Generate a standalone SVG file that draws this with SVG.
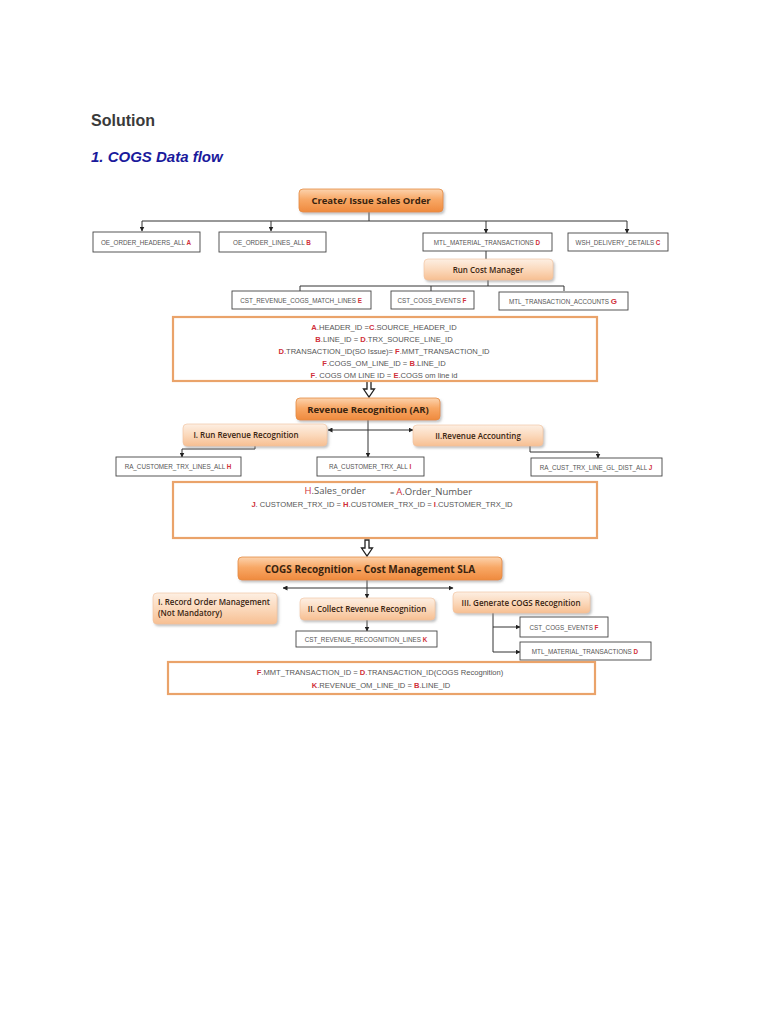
<svg xmlns="http://www.w3.org/2000/svg" width="768" height="1024" viewBox="0 0 768 1024">
<defs>
  <linearGradient id="gMain" x1="0" y1="0" x2="0" y2="1">
    <stop offset="0" stop-color="#fcd3ae"/>
    <stop offset="0.45" stop-color="#f8a866"/>
    <stop offset="1" stop-color="#ef8a3e"/>
  </linearGradient>
  <linearGradient id="gSub" x1="0" y1="0" x2="0" y2="1">
    <stop offset="0" stop-color="#fdefe3"/>
    <stop offset="0.5" stop-color="#fbd9bc"/>
    <stop offset="1" stop-color="#f7bf92"/>
  </linearGradient>
  <filter id="sh" x="-10%" y="-20%" width="125%" height="160%">
    <feDropShadow dx="1.5" dy="2" stdDeviation="1.2" flood-color="#888" flood-opacity="0.5"/>
  </filter>
  <marker id="ah" viewBox="0 0 10 10" refX="9" refY="5" markerWidth="5" markerHeight="5" orient="auto-start-reverse">
    <path d="M0,0 L10,5 L0,10 z" fill="#222"/>
  </marker>
</defs>
<style>
  .title{font-family:"Liberation Sans",Arial,sans-serif;font-weight:bold;font-size:16px;fill:#3a3a3a}
  .sub{font-family:"Liberation Sans",Arial,sans-serif;font-weight:bold;font-style:italic;font-size:15px;fill:#1a1a9c}
  .main{fill:url(#gMain);stroke:#e58a40;stroke-width:0.8;filter:url(#sh)}
  .subbox{fill:url(#gSub);stroke:#f0c09a;stroke-width:0.6;filter:url(#sh)}
  .mt{font-family:"Open Sans","Liberation Sans",sans-serif;font-weight:bold;font-size:9.5px;fill:#3a2410;text-anchor:middle}
  .st{font-family:"Open Sans","Liberation Sans",sans-serif;font-weight:600;font-size:8px;fill:#3a2410;text-anchor:middle}
  .stl{font-family:"Open Sans","Liberation Sans",sans-serif;font-weight:600;font-size:8px;fill:#3a2410;text-anchor:start}
  .tbl{fill:#fff;stroke:#444;stroke-width:0.9}
  .tt{font-family:"Liberation Sans",Arial,sans-serif;font-size:6.3px;fill:#555;text-anchor:middle}
  .r{fill:#d0303a;font-weight:bold}
  .eqbox{fill:#fff;stroke:#eaa36a;stroke-width:2.2}
  .eq{font-family:"Liberation Sans",Arial,sans-serif;font-size:7.6px;fill:#555;text-anchor:middle}
  .conn line,.conn polyline{stroke:#333;stroke-width:1;fill:none}
  .harrow{fill:#fff;stroke:#222;stroke-width:1.3}
</style>

<text class="title" x="91" y="126">Solution</text>
<text class="sub" x="91" y="162">1. COGS Data flow</text>

<!-- connectors -->
<g class="conn" id="connectors">
  <line x1="369" y1="212" x2="369" y2="221"/>
  <line x1="142" y1="221" x2="627" y2="221"/>
  <line x1="142" y1="221" x2="142" y2="231" marker-end="url(#ah)"/>
  <line x1="271" y1="221" x2="271" y2="231" marker-end="url(#ah)"/>
  <line x1="486" y1="221" x2="486" y2="233" marker-end="url(#ah)"/>
  <line x1="627" y1="221" x2="627" y2="233" marker-end="url(#ah)"/>
  <line x1="486" y1="251" x2="486" y2="259"/>
  <line x1="488" y1="280" x2="488" y2="286"/>
  <line x1="300" y1="286" x2="564" y2="286"/>
  <line x1="300" y1="286" x2="300" y2="291"/>
  <line x1="431" y1="286" x2="431" y2="291"/>
  <line x1="564" y1="286" x2="564" y2="291"/>

  <line x1="368" y1="420" x2="368" y2="457" marker-end="url(#ah)"/>
  <line x1="368" y1="430" x2="328" y2="430" marker-end="url(#ah)"/>
  <line x1="368" y1="430" x2="413" y2="430" marker-end="url(#ah)"/>
  <polyline points="255,446 255,449 182,449 182,457" marker-end="url(#ah)"/>
  <polyline points="530,446 530,452 598,452 598,458" marker-end="url(#ah)"/>

  <line x1="367" y1="580" x2="367" y2="598" marker-end="url(#ah)"/>
  <line x1="367" y1="588" x2="283" y2="588" marker-end="url(#ah)"/>
  <line x1="367" y1="588" x2="453" y2="588" marker-end="url(#ah)"/>
  <line x1="367" y1="620" x2="367" y2="631" marker-end="url(#ah)"/>
  <line x1="493" y1="613" x2="493" y2="652"/>
  <line x1="493" y1="627" x2="520" y2="627" marker-end="url(#ah)"/>
  <line x1="493" y1="652" x2="520" y2="652" marker-end="url(#ah)"/>

  <polygon class="harrow" points="367,381 371,381 371,389 374.5,389 369,397 363.5,389 367,389"/>
  <polygon class="harrow" points="365,540 369,540 369,548 372.5,548 367,556 361.5,548 365,548"/>
</g>

<!-- Create/Issue Sales Order -->
<g id="n-create">
  <rect class="main" x="299" y="189" width="144" height="23" rx="4"/>
  <text class="mt" x="371" y="204">Create/ Issue Sales Order</text>
</g>

<g id="n-oeh">
  <rect class="tbl" x="93" y="232" width="107" height="20"/>
  <text class="tt" x="146" y="245">OE_ORDER_HEADERS_ALL <tspan class="r">A</tspan></text>
</g>
<g id="n-oel">
  <rect class="tbl" x="219" y="232" width="107" height="20"/>
  <text class="tt" x="272" y="245">OE_ORDER_LINES_ALL <tspan class="r">B</tspan></text>
</g>
<g id="n-mtl1">
  <rect class="tbl" x="423" y="233" width="129" height="18"/>
  <text class="tt" x="487" y="245">MTL_MATERIAL_TRANSACTIONS <tspan class="r">D</tspan></text>
</g>
<g id="n-wsh">
  <rect class="tbl" x="568" y="233" width="100" height="18"/>
  <text class="tt" x="618" y="245">WSH_DELIVERY_DETAILS <tspan class="r">C</tspan></text>
</g>

<g id="n-rcm">
  <rect class="subbox" x="424" y="259" width="129" height="21" rx="4"/>
  <text class="st" x="488" y="273">Run Cost Manager</text>
</g>

<g id="n-crcml">
  <rect class="tbl" x="232" y="291" width="139" height="18"/>
  <text class="tt" x="301" y="303">CST_REVENUE_COGS_MATCH_LINES <tspan class="r">E</tspan></text>
</g>
<g id="n-cce1">
  <rect class="tbl" x="391" y="291" width="83" height="18"/>
  <text class="tt" x="432" y="303">CST_COGS_EVENTS <tspan class="r">F</tspan></text>
</g>
<g id="n-mta">
  <rect class="tbl" x="499" y="292" width="129" height="18"/>
  <text class="tt" x="563" y="304">MTL_TRANSACTION_ACCOUNTS <tspan class="r" font-size="8">G</tspan></text>
</g>

<g id="n-eq1">
  <rect class="eqbox" x="173" y="317" width="424" height="64"/>
  <text class="eq" x="384" y="330"><tspan class="r">A</tspan>.HEADER_ID =<tspan class="r">C</tspan>.SOURCE_HEADER_ID</text>
  <text class="eq" x="384" y="342"><tspan class="r">B</tspan>.LINE_ID = <tspan class="r">D</tspan>.TRX_SOURCE_LINE_ID</text>
  <text class="eq" x="384" y="354"><tspan class="r">D</tspan>.TRANSACTION_ID(SO Issue)= <tspan class="r">F</tspan>.MMT_TRANSACTION_ID</text>
  <text class="eq" x="384" y="366"><tspan class="r">F</tspan>.COGS_OM_LINE_ID = <tspan class="r">B</tspan>.LINE_ID</text>
  <text class="eq" x="384" y="378"><tspan class="r">F</tspan>. COGS  OM  LINE  ID =  <tspan class="r">E</tspan>.COGS  om   line  id</text>
</g>

<g id="n-rev">
  <rect class="main" x="296" y="398" width="144" height="22" rx="4"/>
  <text class="mt" x="368" y="413">Revenue Recognition (AR)</text>
</g>
<g id="n-rrr">
  <rect class="subbox" x="183" y="424" width="144" height="22" rx="4"/>
  <text class="st" x="246" y="438">I. Run Revenue Recognition</text>
</g>
<g id="n-ra">
  <rect class="subbox" x="413" y="425" width="130" height="21" rx="4"/>
  <text class="st" x="478" y="439">II.Revenue Accounting</text>
</g>

<g id="n-rctl">
  <rect class="tbl" x="116" y="457" width="125" height="19"/>
  <text class="tt" x="178" y="469">RA_CUSTOMER_TRX_LINES_ALL <tspan class="r">H</tspan></text>
</g>
<g id="n-rct">
  <rect class="tbl" x="317" y="457" width="107" height="19"/>
  <text class="tt" x="370" y="469">RA_CUSTOMER_TRX_ALL <tspan class="r">I</tspan></text>
</g>
<g id="n-rctlgd">
  <rect class="tbl" x="531" y="458" width="131" height="18"/>
  <text class="tt" x="596" y="470">RA_CUST_TRX_LINE_GL_DIST_ALL <tspan class="r">J</tspan></text>
</g>

<g id="n-eq2">
  <rect class="eqbox" x="173" y="482" width="424" height="56"/>
  <text x="335" y="494" font-family="Open Sans, Liberation Sans, sans-serif" font-size="9.5" fill="#555" text-anchor="middle"><tspan fill="#d0303a">H</tspan>.Sales_order</text>
  <text x="390" y="495" font-family="Open Sans, Liberation Sans, sans-serif" font-size="9.5" fill="#555"><tspan font-size="7.5">= </tspan><tspan fill="#d0303a">A</tspan>.Order_Number</text>
  <text class="eq" x="382" y="507"><tspan class="r">J</tspan>. CUSTOMER_TRX_ID = <tspan class="r">H</tspan>.CUSTOMER_TRX_ID = <tspan class="r">I</tspan>.CUSTOMER_TRX_ID</text>
</g>

<g id="n-cogs">
  <rect class="main" x="238" y="557" width="264" height="23" rx="4"/>
  <text class="mt" x="370" y="573" style="font-size:10px">COGS Recognition – Cost Management SLA</text>
</g>
<g id="n-rom">
  <rect class="subbox" x="153" y="593" width="124" height="31" rx="4"/>
  <text class="stl" x="158" y="605">I. Record Order Management</text>
  <text class="stl" x="158" y="616">(Not Mandatory)</text>
</g>
<g id="n-crr">
  <rect class="subbox" x="300" y="598" width="135" height="22" rx="4"/>
  <text class="st" x="367" y="612">II. Collect Revenue Recognition</text>
</g>
<g id="n-gcr">
  <rect class="subbox" x="453" y="592" width="137" height="21" rx="4"/>
  <text class="st" x="521" y="606">III. Generate COGS Recognition</text>
</g>

<g id="n-crrl">
  <rect class="tbl" x="296" y="631" width="141" height="16"/>
  <text class="tt" x="366" y="642">CST_REVENUE_RECOGNITION_LINES <tspan class="r">K</tspan></text>
</g>
<g id="n-cce2">
  <rect class="tbl" x="520" y="617" width="88" height="20"/>
  <text class="tt" x="564" y="630">CST_COGS_EVENTS <tspan class="r">F</tspan></text>
</g>
<g id="n-mtl2">
  <rect class="tbl" x="520" y="642" width="131" height="18"/>
  <text class="tt" x="585" y="654">MTL_MATERIAL_TRANSACTIONS <tspan class="r">D</tspan></text>
</g>

<g id="n-eq3">
  <rect class="eqbox" x="168" y="662" width="427" height="32"/>
  <text class="eq" x="380" y="675"><tspan class="r">F</tspan>.MMT_TRANSACTION_ID = <tspan class="r">D</tspan>.TRANSACTION_ID(COGS Recognition)</text>
  <text class="eq" x="381" y="688"><tspan class="r">K</tspan>.REVENUE_OM_LINE_ID = <tspan class="r">B</tspan>.LINE_ID</text>
</g>
</svg>
